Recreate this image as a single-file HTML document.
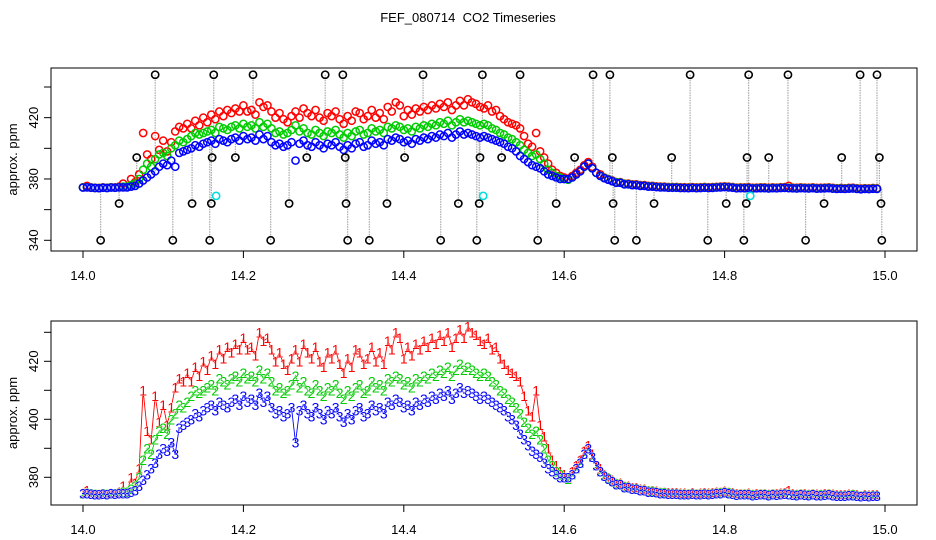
<!DOCTYPE html>
<html><head><meta charset="utf-8"><style>
body{margin:0;background:#fff;}
svg{display:block;font-family:"Liberation Sans",Arial,sans-serif;}
</style></head><body>
<svg id="chart" width="936" height="540" viewBox="0 0 936 540" xmlns="http://www.w3.org/2000/svg">
<rect x="0" y="0" width="936" height="540" fill="#fff"/>
<text x="468" y="22" font-size="13" text-anchor="middle">FEF_080714&#160; CO2 Timeseries</text>
<g id="top"></g>
<g id="bot"></g>
</svg>
<script>
const tStart = 14.0, tStep = 0.005;
const red = [374.6,375.5,374.5,374.3,374.2,374.5,374.3,374.6,374.5,375,
377,375,380,378,383,410,396,393,408,399,
405,398,404,411,414,413,416,413,418,415,
420,417,422,419,424,421,425,423,426,424,
428,424,425,422,430,427,428,424,420,423,
419,417,421,424,420,426,423,421,425,420,
418,423,421,424,419,416,421,418,424,423,
419,421,425,420,423,419,427,424,430,428,
421,425,422,426,424,427,425,428,426,429,
427,430,425,428,431,428,432,430,429,427,
426,428,424,425,421,419,417,416,415,413,
408,403,401,410,398,394,390,386,384,382,
381,380,382,384,386,389,391,388,384,383,
381,380,379,378,378,377,377,376.5,376.5,376,
376,375.5,375.5,375.2,375,375,374.8,374.8,374.8,374.6,
374.6,374.5,374.7,374.5,374.6,374.8,374.6,374.7,374.9,375,
375.2,375,374.8,374.4,374.5,374.5,374.6,374.3,374.4,374.5,
374.5,374.3,374.5,374.4,374.6,374.7,375.5,374.4,374.3,374.5,
374.4,374.3,374.5,374.2,374.3,374.4,374.5,374.2,374,374.1,
374,374.2,374.3,374,373.8,374,373.9,374.1,374];
const green = [374.5,374.6,374.4,374.2,374.1,374.4,374.2,374.5,374.4,374.6,
375,375,376,377,380,386,390,388,393,396,
397,395,400,402,405,404,406,408,410,409,
410,411,412,410,414,413,412,414,415,413,
416,414,415,413,417,414,416,413,410,411,
409,410,412,415,411,413,410,409,412,410,
408,411,410,412,409,407,410,408,411,412,
409,410,413,411,412,410,414,413,415,414,
412,413,411,414,413,415,414,416,415,417,
416,418,415,417,419,417,418,417,416,415,
416,415,413,412,410,409,407,406,404,402,
399,397,395,396,393,390,386,384,382,381,
380,379.5,381,383,385,388,390,387,384,382,
380.7,379.8,378.7,377.8,377.7,376.8,376.7,376.2,376.2,375.7,
375.7,375.2,375.2,374.9,374.7,374.7,374.5,374.5,374.5,374.3,
374.3,374.2,374.4,374.2,374.3,374.5,374.3,374.4,374.6,374.7,
374.9,374.7,374.5,374.1,374.2,374.2,374.3,374,374.1,374.2,
374.2,374,374.2,374.1,374.3,374.4,374.2,374.1,374,374.2,
374.1,374,374.2,373.9,374,374.1,374.2,373.9,373.7,373.8,
373.7,373.9,374,373.7,373.5,373.7,373.6,373.8,373.7];
const blue = [374.4,374.5,374.3,374.1,374,374.3,374.1,374.4,374.3,374.5,
374.5,374.5,375,375.5,377,379,381,383,385,388,
390,389,392,388,397,398,399,400,402,401,
403,404,405,403,406,405,404,406,407,405,
408,406,407,405,409,406,408,404,402,403,
401,402,404,392,403,405,402,401,404,402,
400,403,402,404,401,399,402,400,403,404,
401,402,405,403,404,402,406,405,407,406,
404,405,403,406,405,407,406,408,407,409,
408,410,407,409,411,409,410,409,408,407,
408,407,406,405,404,403,401,400,398,395,
393,391,389,388,387,385,383,382,381,380,
380,380,381,383,385,388,390,387,384,382,
380.5,379.5,378.5,377.5,377.5,376.5,376.5,376,376,375.5,
375.5,375,375,374.7,374.5,374.5,374.3,374.3,374.3,374.1,
374.1,374,374.2,374,374.1,374.3,374.1,374.2,374.4,374.5,
374.7,374.5,374.3,373.9,374,374,374.1,373.8,373.9,374,
374,373.8,374,373.9,374.1,374.2,374,373.9,373.8,374,
373.9,373.8,374,373.7,373.8,373.9,374,373.7,373.5,373.6,
373.5,373.7,373.8,373.5,373.3,373.5,373.4,373.6,373.5];
const outTimes = [14.090,14.163,14.212,14.302,14.324,14.424,14.498,14.545,14.636,14.657,14.757,14.830,14.879,14.969,14.990,
14.067,14.161,14.190,14.279,14.327,14.401,14.495,14.522,14.613,14.660,14.734,14.828,14.855,14.946,14.993,
14.045,14.136,14.160,14.257,14.328,14.379,14.468,14.494,14.590,14.661,14.712,14.802,14.827,14.924,14.995,
14.022,14.112,14.158,14.234,14.330,14.357,14.446,14.491,14.567,14.663,14.690,14.779,14.824,14.901,14.996];
const outValues = [448,448,448,448,448,448,448,448,448,448,448,448,448,448,448,
394,394,394,394,394,394,394,394,394,394,394,394,394,394,394,
364,364,364,364,364,364,364,364,364,364,364,364,364,364,364,
340,340,340,340,340,340,340,340,340,340,340,340,340,340,340];
const cyanTimes = [14.166,14.499,14.832];
const cyanValues = [369,369,369];
const xTicks = [14.0,14.2,14.4,14.6,14.8,15.0];
const xTickLabels = ["14.0","14.2","14.4","14.6","14.8","15.0"];
const topYTicks = [340,360,380,400,420,440];
const topYLabels = ["340","","380","","420",""];
const botYTicks = [380,390,400,410,420,430];
const botYLabels = ["380","","400","","420",""];

const NS="http://www.w3.org/2000/svg";
function mk(tag, attrs, parent){const e=document.createElementNS(NS,tag);for(const k in attrs)e.setAttribute(k,attrs[k]);parent.appendChild(e);return e;}
const X0=51,X1=917;
const xs = t => 83 + (t-14)*802;
const timeAt = i => tStart + i*tStep;
function seriesAt(arr,t){let i=Math.round((t-tStart)/tStep);i=Math.max(0,Math.min(arr.length-1,i));return arr[i];}

function axes(g, top, bottom, ys, yTicks, yLabels, pre){
  const box=mk('rect',{x:X0,y:top,width:X1-X0,height:bottom-top,fill:'none',stroke:'#000','stroke-width':1},g);
  
  
  xTicks.forEach((v,i)=>{
    const l=mk('line',{x1:xs(v),x2:xs(v),y1:bottom,y2:bottom+7,stroke:'#000'},g);
    
    
    const t=mk('text',{x:xs(v),y:bottom+29,'font-size':13,'text-anchor':'middle'},g);
    t.textContent=xTickLabels[i];
    
    
  });
  yTicks.forEach((v,i)=>{
    const y=ys(v);
    const l=mk('line',{x1:X0-7,x2:X0,y1:y,y2:y,stroke:'#000'},g);
    
    
    if(yLabels[i]){
      const t=mk('text',{x:0,y:0,'font-size':13,'text-anchor':'middle',transform:`translate(${X0-13},${y}) rotate(-90)`},g);
      t.textContent=yLabels[i];
      
      
    }
  });
  const yl=mk('text',{x:0,y:0,'font-size':13,'text-anchor':'middle',transform:`translate(17,${(top+bottom)/2}) rotate(-90)`},g);
  yl.textContent='approx. ppm';
  
  
}

// TOP PANEL
const gT=document.getElementById('top');


const ysT = v => 240.3-(v-340)*1.533;
axes(gT,68,251,ysT,topYTicks,topYLabels,'top');
outTimes.forEach((t,i)=>{
  const l=mk('line',{x1:xs(t),x2:xs(t),y1:ysT(outValues[i]),y2:ysT(seriesAt(blue,t)),stroke:'#aaa','stroke-width':1.2,'stroke-dasharray':'1.5,1'},gT);
  
  
});
[[red,'#ff0000','red'],[green,'#00cc00','green'],[blue,'#0000ff','blue']].forEach(([arr,c,n])=>{
  arr.forEach((v,i)=>{
    const e=mk('circle',{cx:xs(timeAt(i)),cy:ysT(v),r:3.6,fill:'none',stroke:c,'stroke-width':1.5},gT);
    
    
  });
});
outTimes.forEach((t,i)=>{
  const e=mk('circle',{cx:xs(t),cy:ysT(outValues[i]),r:3.6,fill:'none',stroke:'#000','stroke-width':1.6},gT);
  
  
});
cyanTimes.forEach((t,i)=>{
  const e=mk('circle',{cx:xs(t),cy:ysT(cyanValues[i]),r:3.6,fill:'none',stroke:'#00dddd','stroke-width':1.6},gT);
  
  
});

// BOTTOM PANEL
const gB=document.getElementById('bot');


const ysB = v => 419.3-(v-400)*2.9;
axes(gB,321,505,ysB,botYTicks,botYLabels,'bottom');
[[red,'#ff0000','1','red'],[green,'#00cc00','2','green'],[blue,'#0000ff','3','blue']].forEach(([arr,c,ch,n])=>{
  const pts=arr.map((v,i)=>xs(timeAt(i)).toFixed(1)+','+ysB(v).toFixed(1)).join(' ');
  const pl=mk('polyline',{points:pts,fill:'none',stroke:c,'stroke-width':0.9},gB);
  
  
  arr.forEach((v,i)=>{
    const t=mk('text',{x:xs(timeAt(i)),y:ysB(v)+5,'font-size':14,'text-anchor':'middle',fill:c,stroke:'#fff','stroke-width':0.6,'paint-order':'stroke'},gB);
    t.textContent=ch;
    
    
  });
});
</script>
</body></html>
